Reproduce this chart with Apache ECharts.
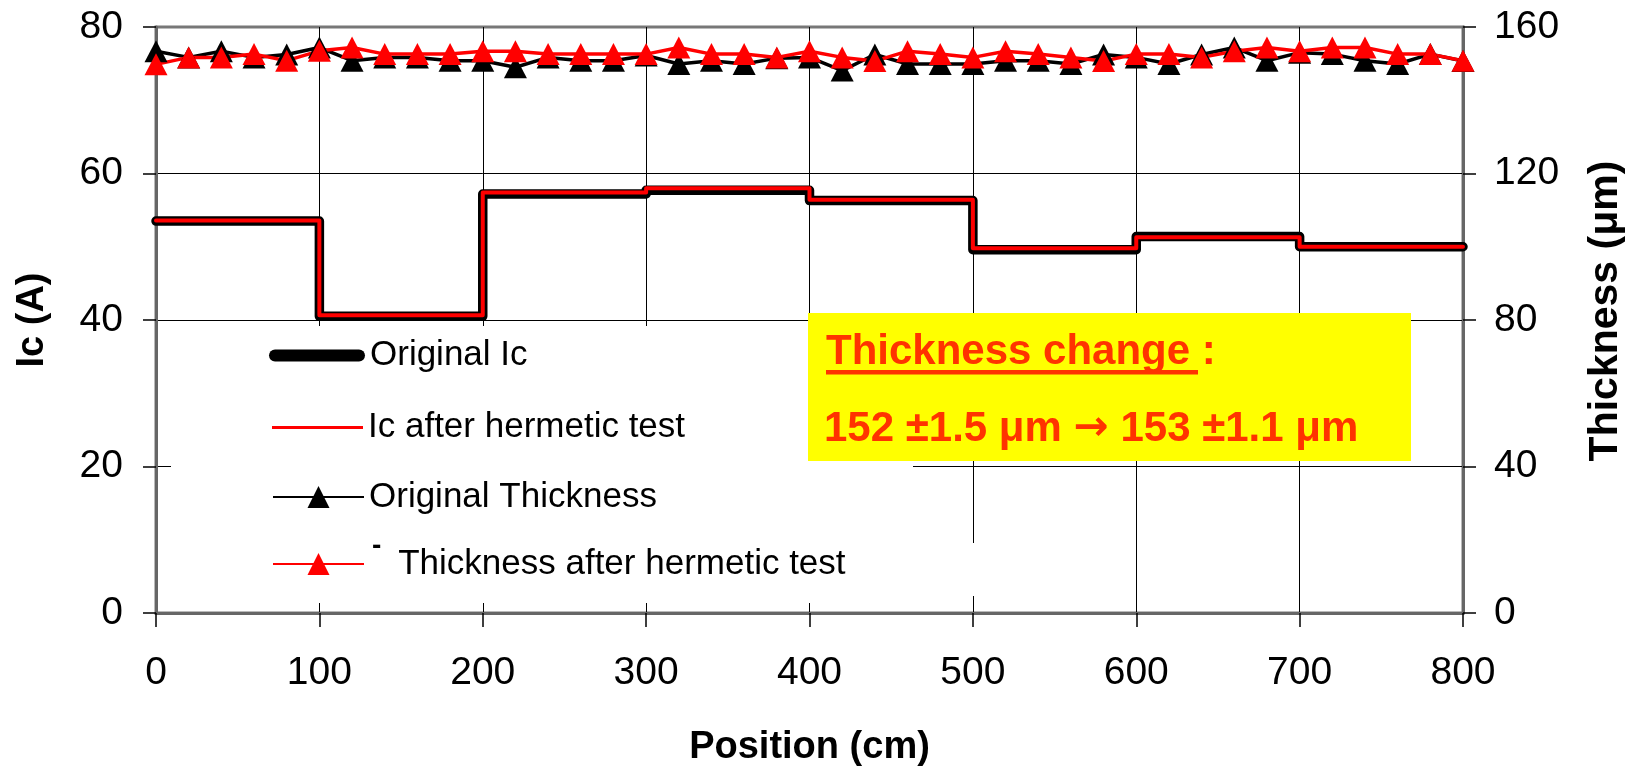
<!DOCTYPE html>
<html><head><meta charset="utf-8">
<script src="https://cdn.jsdelivr.net/npm/echarts@6/dist/echarts.min.js"></script>
<style>html,body{margin:0;padding:0;background:#fff}#c{width:1643px;height:766px}</style>
</head><body><div id="c"></div>
<script>
// Ic step data (position in cm -> Ic in A)
const icPositions = [0, 100, 200, 300, 400, 500, 600, 700, 800];
const icOriginal  = [53.5, 40.5, 57.2, 57.7, 56.3, 49.6, 51.4, 50.0, 50.0];
const icAfter     = [53.6, 40.65, 57.4, 58.0, 56.4, 49.8, 51.3, 50.0, 50.0];

// Thickness data (position in cm -> thickness in um)
const thPositions = [0, 20, 40, 60, 80, 100, 120, 140, 160, 180, 200, 220, 240, 260, 280, 300, 320, 340, 360, 380, 400,
                     420, 440, 460, 480, 500, 520, 540, 560, 580, 600, 620, 640, 660, 680, 700, 720, 740, 760, 780, 800];
const thOriginal = [153.4, 151.7, 153.4, 151.7, 152.5, 154.4, 150.8, 151.7, 151.7, 150.8, 150.8, 149.0, 151.7, 150.8, 150.8,
                    152.2, 149.9, 150.8, 149.9, 151.5, 151.7, 148.1, 152.5, 149.9, 149.9, 149.9, 150.8, 150.8, 149.9, 152.5,
                    151.7, 149.9, 152.5, 154.4, 150.8, 153.0, 152.6, 150.8, 149.9, 152.6, 150.7];
const thAfter    = [149.8, 151.7, 151.7, 152.6, 150.8, 153.5, 154.4, 152.6, 152.6, 152.6, 153.4, 153.4, 152.6, 152.6, 152.6,
                    152.6, 154.4, 152.6, 152.6, 151.7, 153.4, 151.7, 150.7, 153.4, 152.6, 151.7, 153.4, 152.6, 151.7, 150.7,
                    152.6, 152.6, 151.7, 153.4, 154.4, 153.4, 154.4, 154.4, 152.6, 152.6, 150.8];

const seriesNames = ['Original Ic', 'Ic after hermetic test', 'Original Thickness', 'Thickness after hermetic test'];
const noteTitle = 'Thickness change';
const noteColon = ' :';
const noteLine2 = '152 \u00b11.5 \u03bcm {a|\u2192} 153 \u00b11.1 \u03bcm';

const FONT = '"Liberation Sans", Arial, Helvetica, sans-serif';
const pairs = (xs, ys) => xs.map((x, i) => [x, ys[i]]);

const chart = echarts.init(document.getElementById('c'), null, {renderer: 'canvas'});

const axisLabelStyle = {fontFamily: FONT, fontSize: 39, color: '#000'};
const nameStyle = {fontFamily: FONT, fontSize: 38, fontWeight: 'bold', color: '#000'};
const legendText = {fontFamily: FONT, fontSize: 35, color: '#000'};

chart.setOption({
  animation: false,
  backgroundColor: '#fff',
  grid: {left: 156, right: 180, top: 27, bottom: 153, show: true, borderColor: '#777', borderWidth: 3,
         backgroundColor: 'transparent', containLabel: false, outerBoundsMode: 'none'},
  xAxis: {
    type: 'value', min: 0, max: 800, interval: 100,
    name: 'Position (cm)', nameLocation: 'middle', nameGap: 116, nameTextStyle: nameStyle,
    axisLine: {show: true, onZero: false, lineStyle: {color: '#666', width: 3}},
    axisTick: {show: true, length: 14, lineStyle: {color: '#000', width: 1.5}},
    axisLabel: Object.assign({margin: 41}, axisLabelStyle),
    splitLine: {show: true, showMinLine: false, showMaxLine: false, lineStyle: {color: '#000', width: 1}}
  },
  yAxis: [{
    type: 'value', min: 0, max: 80, interval: 20, position: 'left',
    name: 'Ic (A)', nameLocation: 'middle', nameGap: 104, nameTextStyle: nameStyle,
    axisLine: {show: true, onZero: false, lineStyle: {color: '#666', width: 3}},
    axisTick: {show: true, length: 13, lineStyle: {color: '#000', width: 1.5}},
    axisLabel: Object.assign({margin: 33, padding: [0, 0, 7, 0]}, axisLabelStyle),
    splitLine: {show: true, showMinLine: false, showMaxLine: false, lineStyle: {color: '#000', width: 1}}
  }, {
    type: 'value', min: 0, max: 160, interval: 40, position: 'right',
    name: 'Thickness (\u03bcm)', nameLocation: 'middle', nameGap: 122,
    nameTextStyle: Object.assign({}, nameStyle, {fontSize: 41, padding: [0, 0, 0, 18]}),
    axisLine: {show: true, onZero: false, lineStyle: {color: '#666', width: 3}},
    axisTick: {show: true, length: 13, lineStyle: {color: '#000', width: 1.5}},
    axisLabel: Object.assign({margin: 31, padding: [0, 0, 7, 0]}, axisLabelStyle),
    splitLine: {show: false}
  }],
  legend: [
    {data: [{name: seriesNames[0], icon: 'path://M6,0L90,0A6,6,0,0,1,90,12L6,12A6,6,0,0,1,6,0Z',
             itemStyle: {color: '#000', borderWidth: 0}}],
     left: 269, top: 338, padding: 0, itemWidth: 96, itemHeight: 12, textStyle: legendText, selectedMode: false},
    {data: [{name: seriesNames[1], icon: 'rect', itemStyle: {color: '#ff0000', borderWidth: 0}}],
     left: 272, top: 410, padding: 0, itemWidth: 91, itemHeight: 3, textStyle: legendText, selectedMode: false},
    {data: [seriesNames[2]],
     left: 272, top: 479.5, padding: 0, itemWidth: 91, itemHeight: 27.5, textStyle: legendText, selectedMode: false},
    {data: [seriesNames[3]], formatter: '   {name}',
     left: 272, top: 546.5, padding: 0, itemWidth: 91, itemHeight: 27.5, textStyle: legendText, selectedMode: false}
  ],
  graphic: [
    {type: 'rect', z: 1, silent: true, shape: {x: 171, y: 326, width: 742, height: 277}, style: {fill: '#fff'}},
    {type: 'rect', z: 1, silent: true, shape: {x: 930, y: 543, width: 70, height: 53}, style: {fill: '#fff'}},
    {type: 'rect', z: 1, silent: true, shape: {x: 808, y: 313, width: 603, height: 148}, style: {fill: '#ffff00'}},
    {type: 'text', z: 1, silent: true, x: 826, y: 352,
     style: {text: noteTitle + noteColon, fill: '#ff3300', font: 'bold 42px ' + FONT, textAlign: 'left', verticalAlign: 'middle'}},
    {type: 'rect', z: 1, silent: true, shape: {x: 826, y: 370, width: 372, height: 4.5}, style: {fill: '#ff3300'}},
    {type: 'text', z: 1, silent: true, x: 824, y: 429,
     style: {text: noteLine2, fill: '#ff3300', font: 'bold 42px ' + FONT, textAlign: 'left', verticalAlign: 'middle',
             rich: {a: {fill: '#ff3300', fontFamily: '"DejaVu Sans", sans-serif', fontWeight: 'bold', fontSize: 42}}}},
    {type: 'text', z: 5, silent: true, x: 372, y: 546,
     style: {text: '-', fill: '#000', font: 'bold 28px ' + FONT, textAlign: 'left', verticalAlign: 'middle'}}
  ],
  series: [
    {name: seriesNames[0], type: 'line', step: 'end', xAxisIndex: 0, yAxisIndex: 0, symbol: 'none',
     data: pairs(icPositions, icOriginal), itemStyle: {color: '#000'},
     lineStyle: {color: '#000', width: 9.5, cap: 'round', join: 'round'}},
    {name: seriesNames[1], type: 'line', step: 'end', xAxisIndex: 0, yAxisIndex: 0, symbol: 'none',
     data: pairs(icPositions, icAfter), itemStyle: {color: '#ff0000'},
     lineStyle: {color: '#ff0000', width: 4, cap: 'round', join: 'round'}},
    {name: seriesNames[2], type: 'line', xAxisIndex: 0, yAxisIndex: 1, symbol: 'triangle', symbolSize: [23, 22],
     showAllSymbol: true, data: pairs(thPositions, thOriginal), itemStyle: {color: '#000'},
     lineStyle: {color: '#000', width: 3.5}},
    {name: seriesNames[3], type: 'line', xAxisIndex: 0, yAxisIndex: 1, symbol: 'triangle', symbolSize: [23, 22],
     showAllSymbol: true, data: pairs(thPositions, thAfter), itemStyle: {color: '#ff0000'},
     lineStyle: {color: '#ff0000', width: 3.5}}
  ]
});
</script>
</body></html>
